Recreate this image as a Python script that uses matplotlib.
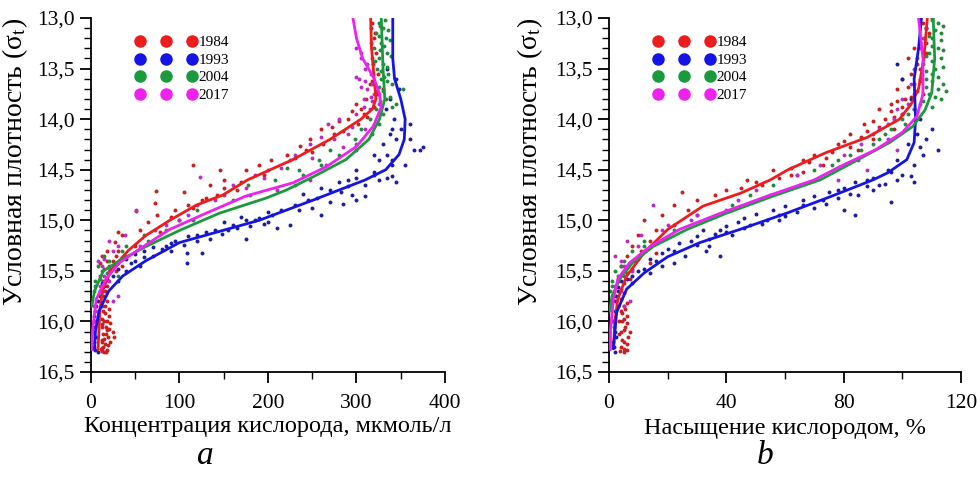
import matplotlib
matplotlib.use("Agg")
import matplotlib.pyplot as plt
from matplotlib.lines import Line2D
from matplotlib.ticker import MultipleLocator, FuncFormatter

plt.rcParams['font.family'] = ['Liberation Serif', 'DejaVu Serif']
plt.rcParams['mathtext.fontset'] = 'stix'

YEARS = ["1984", "1993", "2004", "2017"]
LINE_COLORS = ["#ee1c1c", "#1414e6", "#1a9a3c", "#ee22ee"]
DOT_COLORS = ["#c82020", "#1e1e9c", "#238a3c", "#b82ec4"]

# ---- panel a : oxygen concentration, umol/l  (sigma, value) ----
CURVE_A = {
    "1984": [(13.0, 316), (13.3, 317), (13.6, 320), (13.8, 322), (13.9, 318), (14.0, 305),
             (14.2, 270), (14.4, 228), (14.6, 177), (14.75, 149), (14.85, 119), (15.0, 89),
             (15.15, 62), (15.3, 42), (15.5, 22), (15.7, 13), (15.9, 10), (16.1, 9), (16.28, 8)],
    "1993": [(13.0, 341), (13.4, 341), (13.6, 343), (13.8, 350), (14.0, 355), (14.2, 354),
             (14.35, 348), (14.5, 333), (14.6, 310), (14.8, 251), (15.0, 190), (15.1, 149),
             (15.22, 100), (15.4, 62), (15.55, 36), (15.7, 20), (15.9, 9), (16.1, 5), (16.28, 4)],
    "2004": [(13.0, 328), (13.5, 330), (13.8, 332), (14.0, 326), (14.2, 314), (14.4, 288),
             (14.57, 251), (14.7, 221), (14.78, 198), (14.93, 145), (15.1, 100), (15.26, 62),
             (15.4, 32), (15.5, 14), (15.7, 4), (15.85, 1)],
    "2017": [(13.0, 296), (13.2, 300), (13.4, 307), (13.6, 320), (13.75, 326), (13.88, 328),
             (14.07, 319), (14.27, 300), (14.47, 266), (14.63, 228), (14.76, 175), (14.93, 130),
             (15.09, 89), (15.26, 59), (15.42, 32), (15.58, 17), (15.78, 6), (16.08, 2), (16.28, 1)],
}

POINTS_A = {
    "1984": [(13.05, 318), (13.15, 321), (13.25, 316), (13.35, 322), (13.45, 319), (13.55, 324),
             (13.62, 318), (13.7, 330), (13.75, 323), (13.8, 311), (13.85, 300), (13.88, 320),
             (13.92, 295), (13.95, 308), (14.0, 290), (14.02, 280), (14.05, 302), (14.1, 260),
             (14.15, 275), (14.2, 248), (14.25, 262), (14.27, 236), (14.3, 243), (14.35, 222),
             (14.4, 203), (14.45, 190), (14.45, 115), (14.5, 146), (14.5, 175), (14.55, 195),
             (14.6, 150), (14.65, 135), (14.7, 165), (14.71, 74), (14.72, 105), (14.75, 142),
             (14.8, 125), (14.83, 72), (14.85, 110), (14.91, 51), (14.9, 95), (14.95, 75),
             (15.0, 100), (15.02, 65), (15.1, 55), (15.12, 30), (15.12, 78), (15.15, 35),
             (15.21, 27), (15.25, 50), (15.3, 30), (15.35, 28), (15.4, 18), (15.45, 35),
             (15.5, 28), (15.85, 16), (15.9, 14), (15.95, 20), (16.0, 15), (16.02, 22),
             (16.05, 13), (16.08, 18), (16.1, 25), (16.12, 14), (16.15, 19), (16.15, 26),
             (16.18, 12), (16.2, 22), (16.22, 16), (16.25, 14), (16.27, 11), (16.28, 18),
             (16.3, 15), (16.05, 17), (15.98, 12),
             (15.3, 18), (15.35, 12), (15.4, 25), (15.42, 10), (15.45, 20), (15.48, 15),
             (15.55, 10), (15.6, 14), (15.65, 18), (15.7, 16), (15.75, 14), (15.8, 18),
             (15.85, 12), (15.88, 20), (15.92, 16), (16.0, 18), (16.03, 12), (16.07, 20),
             (16.12, 17), (16.17, 15), (16.2, 13), (16.23, 19), (16.26, 13), (16.29, 12),
             (16.3, 17), (14.38, 230), (14.32, 250), (14.12, 285), (14.08, 272), (13.98, 312),
             (13.9, 305), (13.65, 315), (13.4, 317), (13.2, 320), (13.1, 316), (14.62, 170),
             (14.68, 150), (14.78, 130), (14.88, 115), (14.97, 90)],
    "1993": [(13.5, 335), (13.6, 345), (13.7, 348), (13.8, 338), (13.9, 333), (14.0, 342),
             (14.05, 360), (14.1, 350), (14.15, 338), (14.2, 345), (14.25, 330), (14.3, 365),
             (14.28, 375), (14.3, 372), (14.35, 320), (14.4, 340), (14.45, 355), (14.5, 300),
             (14.55, 320), (14.58, 335), (14.6, 290), (14.62, 345), (14.65, 310), (14.7, 270),
             (14.75, 295), (14.78, 255), (14.8, 300), (14.85, 230), (14.9, 215), (14.95, 260),
             (15.0, 185), (15.02, 200), (15.05, 160), (15.08, 210), (15.1, 140), (15.15, 120),
             (15.18, 175), (15.2, 95), (15.25, 85), (15.3, 60), (15.32, 108), (15.35, 70),
             (15.42, 109), (15.32, 125), (15.4, 50), (15.45, 55), (15.5, 40), (15.55, 25),
             (15.6, 30), (15.65, 15), (15.7, 10), (15.8, 8), (15.9, 5), (16.0, 3), (16.1, 4),
             (16.2, 3), (16.28, 5), (16.3, 8), (15.05, 225), (14.97, 170),
             (14.52, 320), (14.56, 340), (14.6, 325), (14.58, 300), (14.62, 280), (14.66, 290),
             (14.68, 260), (14.72, 282), (14.74, 240), (14.76, 310), (14.8, 245), (14.82, 270),
             (14.84, 285), (14.88, 250), (14.9, 235), (14.92, 200), (14.95, 205), (14.98, 190),
             (15.0, 175), (15.02, 150), (15.04, 195), (15.06, 180), (15.08, 165), (15.1, 155),
             (15.12, 130), (15.14, 148), (15.16, 110), (15.18, 135), (15.2, 120), (15.22, 90),
             (15.24, 105), (15.26, 70), (15.28, 80), (15.3, 90), (15.33, 50), (15.36, 60),
             (15.38, 40), (15.42, 45), (15.48, 30), (15.52, 20), (15.58, 18), (15.62, 12),
             (15.75, 10), (15.85, 6), (15.95, 4), (16.05, 5), (16.15, 6), (16.25, 3),
             (14.2, 360), (14.1, 340), (14.4, 325), (14.45, 340), (14.35, 335)],
    "2004": [(13.05, 325), (13.1, 330), (13.15, 322), (13.2, 333), (13.25, 328), (13.3, 320),
             (13.35, 335), (13.4, 326), (13.45, 330), (13.5, 323), (13.55, 336), (13.6, 328),
             (13.65, 340), (13.7, 352), (13.75, 325), (13.8, 333), (13.85, 345), (13.9, 322),
             (14.0, 315), (14.1, 305), (14.2, 298), (14.3, 270), (14.4, 258), (14.48, 221),
             (14.5, 235), (14.6, 208), (14.65, 177), (14.65, 230), (14.75, 180), (14.8, 160),
             (14.9, 120), (15.0, 115), (15.1, 85), (15.2, 65), (15.3, 35), (15.4, 20),
             (15.45, 8), (15.5, 12), (15.55, 30), (15.6, 5), (15.7, 3),
             (13.02, 332), (13.08, 327), (13.12, 336), (13.18, 326), (13.22, 338), (13.28, 331),
             (13.32, 327), (13.38, 339), (13.42, 321), (13.48, 334), (13.52, 328), (13.58, 331),
             (13.62, 335), (13.68, 326), (13.72, 330), (13.78, 338), (13.82, 327), (13.88, 340),
             (13.95, 330), (14.05, 325), (14.15, 318), (14.25, 300), (14.35, 280), (14.45, 260),
             (14.55, 240), (15.35, 15), (15.42, 30), (15.48, 22), (15.52, 18), (15.58, 10),
             (15.65, 5), (15.25, 40), (15.15, 60)],
    "2017": [(13.3, 300), (13.4, 305), (13.5, 310), (13.6, 303), (13.65, 318), (13.7, 312),
             (13.75, 320), (13.8, 308), (13.85, 325), (13.9, 315), (14.0, 280), (14.05, 268),
             (14.1, 310), (14.15, 290), (14.2, 275), (14.25, 248), (14.3, 300), (14.35, 230),
             (14.4, 225), (14.45, 265), (14.5, 200), (14.55, 185), (14.57, 123), (14.6, 248),
             (14.65, 160), (14.7, 210), (14.8, 140), (14.9, 51), (15.0, 100), (15.1, 72),
             (15.15, 38), (15.2, 20), (15.25, 55), (15.35, 40), (15.4, 8), (15.45, 25),
             (15.55, 15), (15.6, 20), (15.75, 30), (15.8, 25), (15.9, 5), (16.1, 2),
             (13.35, 305), (13.45, 312), (13.55, 316), (13.58, 300), (13.62, 310), (13.68, 305),
             (13.72, 322), (13.78, 316), (13.82, 318), (13.88, 308), (13.95, 300), (14.08, 295),
             (14.18, 260), (14.28, 285), (14.38, 250), (14.48, 215), (14.58, 195), (14.68, 175),
             (14.75, 150), (14.85, 120), (14.95, 110), (15.05, 85), (15.25, 30), (15.3, 25),
             (15.38, 15), (15.45, 12), (15.5, 20), (15.65, 10), (15.7, 12), (15.85, 3),
             (16.0, 3), (16.2, 1)],
}

# ---- panel b : oxygen saturation, %  (sigma, value) ----
CURVE_B = {
    "1984": [(13.0, 108.5), (13.4, 107.3), (13.7, 105.5), (13.85, 103), (14.0, 99), (14.18, 88),
             (14.33, 74), (14.5, 61), (14.6, 55), (14.73, 45), (14.86, 32), (15.09, 20),
             (15.32, 12), (15.55, 6), (15.78, 3), (16.0, 2), (16.27, 1.5)],
    "1993": [(13.0, 106.5), (13.3, 105.5), (13.6, 104), (14.0, 104.5), (14.23, 104), (14.4, 101.5),
             (14.53, 95), (14.6, 90), (14.76, 76), (14.93, 60.5), (15.09, 44.6), (15.22, 31),
             (15.36, 20), (15.52, 12), (15.68, 6), (15.91, 2.6), (16.27, 1.5)],
    "2004": [(13.0, 110.5), (13.4, 111), (13.74, 110), (13.91, 107.7), (14.07, 103.6), (14.23, 95.7),
             (14.43, 83), (14.6, 72), (14.76, 56), (14.93, 40), (15.09, 26.6), (15.26, 15),
             (15.42, 8), (15.58, 3.7), (15.75, 1), (15.9, 0.3)],
    "2017": [(13.0, 105.5), (13.4, 107), (13.75, 107), (13.97, 105), (14.13, 100), (14.3, 91),
             (14.47, 78.6), (14.6, 70), (14.76, 54), (14.93, 38), (15.09, 24), (15.26, 14),
             (15.42, 7), (15.58, 3), (15.78, 1.5), (16.08, 0.5), (16.28, 0.5)],
}

POINTS_B = {
    "1984": [(13.0, 110), (13.1, 108), (13.2, 106), (13.3, 104), (13.35, 108), (13.4, 102),
             (13.5, 106), (13.55, 103), (13.6, 100), (13.65, 104), (13.7, 98), (13.75, 107),
             (13.8, 101), (13.85, 96), (13.9, 92), (13.95, 100), (14.0, 94), (14.05, 87),
             (14.1, 97), (14.15, 82), (14.2, 90), (14.25, 78), (14.3, 85), (14.35, 70),
             (14.4, 66), (14.45, 73), (14.5, 56), (14.55, 62), (14.6, 47), (14.65, 52),
             (14.7, 40), (14.72, 25), (14.75, 36), (14.8, 30), (14.85, 22), (14.9, 27),
             (14.95, 18), (15.0, 12), (15.05, 22), (15.1, 16), (15.15, 10), (15.2, 14),
             (15.25, 8), (15.3, 11), (15.35, 6), (15.4, 9), (15.45, 4), (15.85, 5), (15.9, 4),
             (15.95, 6), (16.0, 4.5), (16.05, 5.5), (16.1, 4), (16.15, 6.5), (16.2, 5),
             (16.25, 4), (16.28, 6), (16.3, 5), (16.1, 7), (16.0, 3.5),
             (13.05, 107), (13.15, 109), (13.25, 108), (13.45, 105), (13.62, 106), (13.68, 102),
             (13.72, 105), (13.78, 103), (13.82, 98), (13.88, 100), (13.92, 96), (13.98, 97),
             (14.02, 90), (14.08, 92), (14.12, 88), (14.18, 86), (14.22, 80), (14.28, 82),
             (14.32, 76), (14.38, 74), (14.42, 68), (14.48, 62), (14.52, 66), (14.58, 58),
             (14.62, 50), (14.68, 45), (15.32, 16), (15.38, 10), (15.42, 14), (15.48, 8),
             (15.52, 6), (15.58, 7), (15.62, 5), (15.68, 4), (15.72, 5), (15.78, 4),
             (15.82, 6), (15.88, 5.5), (15.92, 4.5), (15.98, 5), (16.02, 6), (16.08, 5),
             (16.12, 3.5), (16.18, 4.5), (16.22, 6), (16.27, 5), (16.29, 3.8)],
    "1993": [(13.45, 98), (13.6, 100), (13.8, 103), (13.9, 104), (14.0, 106), (14.1, 110),
             (14.2, 108), (14.25, 102), (14.3, 112), (14.35, 107), (14.4, 98), (14.45, 104),
             (14.5, 95), (14.55, 100), (14.6, 88), (14.62, 104), (14.65, 92), (14.7, 78),
             (14.75, 85), (14.8, 73), (14.82, 96), (14.85, 66), (14.9, 80), (14.95, 58),
             (14.95, 84), (15.0, 54), (15.05, 48), (15.1, 38), (15.15, 42), (15.2, 28),
             (15.25, 34), (15.3, 22), (15.3, 33), (15.35, 26), (15.35, 38), (15.4, 16),
             (15.45, 18), (15.5, 10), (15.55, 8), (15.6, 4), (15.7, 3), (15.8, 2), (15.9, 2),
             (16.0, 1.5), (16.1, 2), (16.2, 1.5), (16.3, 2),
             (14.52, 96), (14.56, 103), (14.58, 90), (14.6, 98), (14.62, 84), (14.64, 94),
             (14.66, 88), (14.68, 80), (14.7, 90), (14.72, 75), (14.74, 82), (14.76, 70),
             (14.78, 78), (14.8, 66), (14.84, 74), (14.86, 60), (14.88, 70), (14.9, 56),
             (14.92, 64), (14.94, 50), (14.96, 60), (14.98, 46), (15.0, 58), (15.02, 44),
             (15.04, 52), (15.06, 40), (15.08, 46), (15.1, 32), (15.12, 40), (15.14, 36),
             (15.16, 30), (15.18, 34), (15.22, 24), (15.24, 30), (15.28, 20), (15.32, 18),
             (15.38, 14), (15.42, 22), (15.48, 12), (15.52, 14), (15.58, 6), (15.62, 8),
             (15.66, 3), (15.75, 2.5), (15.85, 3), (16.05, 1.8), (16.15, 2.5), (16.25, 1.8),
             (14.15, 105), (14.28, 106)],
    "2004": [(13.05, 112), (13.1, 108), (13.15, 113), (13.2, 110), (13.25, 106), (13.3, 112),
             (13.35, 109), (13.4, 113), (13.45, 107), (13.5, 111), (13.55, 110), (13.6, 108),
             (13.65, 114), (13.7, 112), (13.75, 109), (13.8, 113), (13.85, 106), (13.9, 104),
             (14.0, 100), (14.1, 96), (14.2, 92), (14.3, 86), (14.4, 78), (14.5, 70),
             (14.55, 64), (14.65, 56), (14.75, 48), (14.85, 42), (14.95, 30), (15.1, 22),
             (15.2, 12), (15.3, 8), (15.4, 5), (15.5, 2), (15.6, 1), (15.7, 0.5),
             (13.02, 110), (13.08, 114), (13.12, 111), (13.18, 109), (13.22, 113), (13.28, 110),
             (13.32, 114), (13.38, 108), (13.42, 110), (13.48, 114), (13.52, 108), (13.58, 112),
             (13.62, 110), (13.68, 108), (13.72, 115), (13.78, 111), (13.82, 107), (13.88, 110),
             (13.95, 102), (14.05, 101), (14.15, 94), (14.25, 90), (14.35, 82), (14.45, 76),
             (15.25, 12), (15.35, 10), (15.45, 4), (15.55, 3), (15.65, 1)],
    "2017": [(13.1, 108), (13.3, 106), (13.5, 104), (13.65, 103), (13.8, 100), (13.9, 98),
             (14.0, 97), (14.1, 92), (14.2, 95), (14.25, 86), (14.3, 98), (14.35, 80),
             (14.45, 72), (14.5, 88), (14.55, 64), (14.6, 78), (14.7, 50), (14.8, 44),
             (14.85, 15), (14.95, 30), (15.05, 20), (15.15, 11), (15.2, 6), (15.3, 12),
             (15.35, 2), (15.4, 4), (15.55, 5), (15.6, 3), (15.8, 7), (15.85, 5), (16.0, 1),
             (13.2, 107), (13.4, 105), (13.6, 106), (13.75, 104), (13.85, 102), (13.95, 100),
             (14.05, 95), (14.15, 90), (14.4, 85), (14.65, 65), (14.75, 55), (14.9, 40),
             (15.0, 28), (15.1, 18), (15.25, 10), (15.45, 5), (15.5, 8), (15.65, 2), (15.7, 4)],
}


def comma(v, pos):
    return ("%.1f" % v).replace(".", ",")


def draw_panel(ax, curves, points, xmax, xmajor, xminor, xlabel, xlabel_y, ylabel_x):
    for year, dc in zip(YEARS, DOT_COLORS):
        sig = [p[0] for p in points[year]]
        val = [p[1] for p in points[year]]
        ax.scatter(val, sig, s=8, color=dc, linewidths=0, zorder=2)
    for year, lc in zip(YEARS, LINE_COLORS):
        sig = [p[0] for p in curves[year]]
        val = [p[1] for p in curves[year]]
        ax.plot(val, sig, color=lc, lw=2.0, zorder=3, solid_capstyle="round")

    ax.set_xlim(0, xmax)
    ax.set_ylim(16.5, 13.0)
    ax.xaxis.set_major_locator(MultipleLocator(xmajor))
    ax.xaxis.set_minor_locator(MultipleLocator(xminor))
    ax.yaxis.set_major_locator(MultipleLocator(0.5))
    ax.yaxis.set_minor_locator(MultipleLocator(0.1))
    ax.yaxis.set_major_formatter(FuncFormatter(comma))
    ax.spines["top"].set_visible(False)
    ax.spines["right"].set_visible(False)
    ax.spines["left"].set_linewidth(1.3)
    ax.spines["bottom"].set_linewidth(1.3)
    ax.tick_params(which="major", direction="out", length=8, width=1.3, labelsize=15.5)
    ax.tick_params(axis="x", which="major", pad=8)
    ax.tick_params(which="minor", direction="out", length=5, width=1.0)
    ax.set_xlabel(xlabel, fontsize=17.5)
    ax.xaxis.set_label_coords(0.5, xlabel_y)
    ax.set_ylabel("Условная плотность (σ$_{\\mathrm{t}}$)", fontsize=20)
    ax.yaxis.set_label_coords(ylabel_x, 0.593)

    handles = [Line2D([], [], ls="none", marker="o", ms=8, color=c) for c in LINE_COLORS]
    ax.legend(handles, YEARS, numpoints=3, handlelength=4.0, handletextpad=0.1,
              labelspacing=0.25, fontsize=11, frameon=False, loc="upper left",
              bbox_to_anchor=(0.101, 0.976), borderaxespad=0.2)


fig = plt.figure(figsize=(9.78, 4.93), dpi=100)
ax1 = fig.add_axes([0.093, 0.2454, 0.362, 0.718])
ax2 = fig.add_axes([0.6227, 0.2454, 0.36, 0.718])

draw_panel(ax1, CURVE_A, POINTS_A, 400, 100, 50, "Концентрация кислорода, мкмоль/л", -0.123, -0.172)
draw_panel(ax2, CURVE_B, POINTS_B, 120, 40, 20, "Насыщение кислородом, %", -0.13, -0.182)

fig.text(0.21, 0.075, "a", fontsize=24, style="italic", ha="center", va="center")
fig.text(0.782, 0.075, "b", fontsize=24, style="italic", ha="center", va="center")

fig.savefig("out.png", dpi=100)
